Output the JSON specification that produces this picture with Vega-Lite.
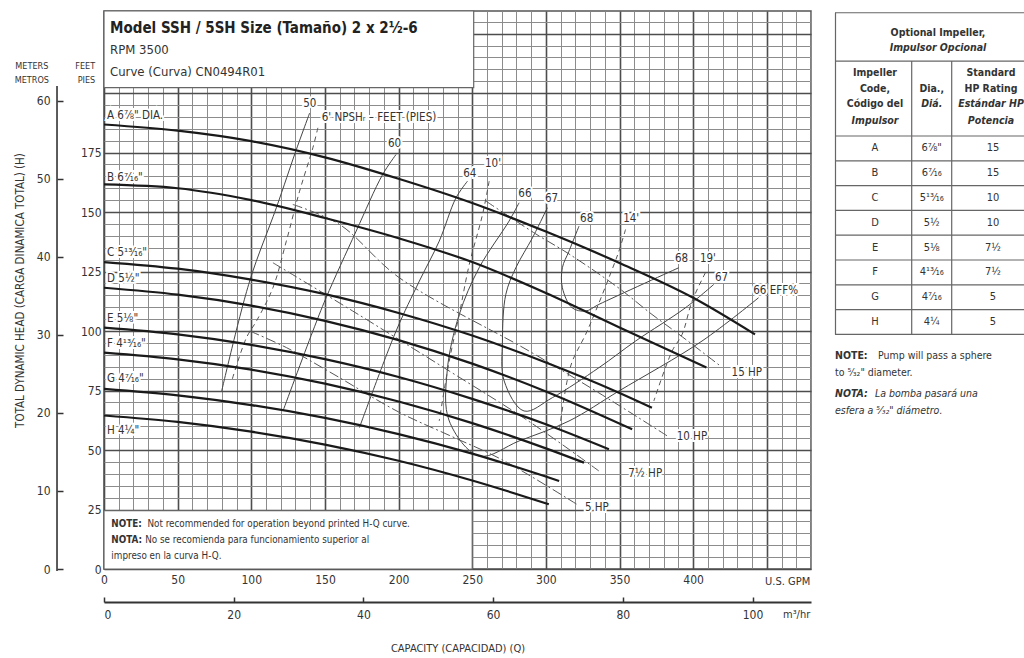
{
"$schema": "https://vega.github.io/schema/vega-lite/v6.json",
"padding": {"left": 13, "top": 7, "right": 0, "bottom": 0},
"background": "white",
"config": {"font": "Liberation Sans Narrow, DejaVu Sans Condensed, Roboto Condensed, sans-serif", "concat": {"spacing": 19}},
"datasets": {
"hq": [
{"c":"A","q":0,"h":186.8},{"c":"A","q":50,"h":184.2},{"c":"A","q":100,"h":179.8},{"c":"A","q":150,"h":173},{"c":"A","q":200,"h":164},{"c":"A","q":250,"h":153.8},{"c":"A","q":300,"h":141.8},{"c":"A","q":350,"h":128.6},{"c":"A","q":400,"h":114},{"c":"A","q":442,"h":98.6},
{"c":"B","q":0,"h":161.6},{"c":"B","q":50,"h":160},{"c":"B","q":100,"h":155},{"c":"B","q":150,"h":147.5},{"c":"B","q":200,"h":139},{"c":"B","q":250,"h":129},{"c":"B","q":300,"h":116},{"c":"B","q":350,"h":101.5},{"c":"B","q":409,"h":84.7},
{"c":"C","q":0,"h":129},{"c":"C","q":50,"h":126.2},{"c":"C","q":100,"h":121.6},{"c":"C","q":150,"h":115.5},{"c":"C","q":200,"h":107.6},{"c":"C","q":250,"h":98.1},{"c":"C","q":300,"h":86.8},{"c":"C","q":350,"h":74},{"c":"C","q":372,"h":67.8},
{"c":"D","q":0,"h":118.2},{"c":"D","q":50,"h":115.3},{"c":"D","q":100,"h":110.7},{"c":"D","q":150,"h":104.3},{"c":"D","q":200,"h":96.2},{"c":"D","q":250,"h":86.3},{"c":"D","q":300,"h":74.6},{"c":"D","q":358.6,"h":58.7},
{"c":"E","q":0,"h":101.4},{"c":"E","q":50,"h":98.6},{"c":"E","q":100,"h":94.2},{"c":"E","q":150,"h":88.2},{"c":"E","q":200,"h":80.7},{"c":"E","q":250,"h":71.5},{"c":"E","q":300,"h":60.8},{"c":"E","q":342.8,"h":50.3},
{"c":"F","q":0,"h":90.9},{"c":"F","q":50,"h":88.1},{"c":"F","q":100,"h":83.8},{"c":"F","q":150,"h":77.9},{"c":"F","q":200,"h":70.4},{"c":"F","q":250,"h":61.3},{"c":"F","q":300,"h":50.7},{"c":"F","q":325.9,"h":44.7},
{"c":"G","q":0,"h":75.7},{"c":"G","q":50,"h":73},{"c":"G","q":100,"h":68.9},{"c":"G","q":150,"h":63.5},{"c":"G","q":200,"h":56.7},{"c":"G","q":250,"h":48.5},{"c":"G","q":309,"h":37},
{"c":"H","q":0,"h":64.5},{"c":"H","q":50,"h":61.8},{"c":"H","q":100,"h":57.7},{"c":"H","q":150,"h":52.3},{"c":"H","q":200,"h":45.5},{"c":"H","q":250,"h":37.2},{"c":"H","q":302,"h":27.2}
],
"eff": [
{"c":"e50","o":1,"q":139.6,"h":191.6},{"c":"e50","o":2,"q":130.6,"h":176.3},{"c":"e50","o":3,"q":117,"h":151.8},{"c":"e50","o":4,"q":98.9,"h":121},{"c":"e50","o":5,"q":79.9,"h":74.8},
{"c":"e60","o":1,"q":198.3,"h":174.2},{"c":"e60","o":2,"q":189.2,"h":165.8},{"c":"e60","o":3,"q":171.2,"h":142},{"c":"e60","o":4,"q":150.8,"h":114},{"c":"e60","o":5,"q":141.8,"h":100},{"c":"e60","o":6,"q":121.5,"h":66.4},
{"c":"e64","o":1,"q":246.8,"h":163},{"c":"e64","o":2,"q":239,"h":156},{"c":"e64","o":3,"q":227.6,"h":137.8},{"c":"e64","o":4,"q":214.1,"h":121},{"c":"e64","o":5,"q":198.3,"h":100},{"c":"e64","o":6,"q":173.4,"h":59.4},
{"c":"e66","o":1,"q":281.8,"h":153.9},{"c":"e66","o":2,"q":275,"h":146.2},{"c":"e66","o":3,"q":254.7,"h":126.6},{"c":"e66","o":4,"q":241.2,"h":107},{"c":"e66","o":5,"q":233,"h":83.2},{"c":"e66","o":6,"q":234.4,"h":62.2},{"c":"e66","o":7,"q":254.7,"h":47.5},{"c":"e66","o":8,"q":281.8,"h":53.8},{"c":"e66","o":9,"q":315.7,"h":62.2},{"c":"e66","o":10,"q":349.6,"h":74.8},{"c":"e66","o":11,"q":406,"h":95.8},{"c":"e66","o":12,"q":444.4,"h":114},
{"c":"e67","o":1,"q":301,"h":151.8},{"c":"e67","o":2,"q":290.9,"h":139.2},{"c":"e67","o":3,"q":279.6,"h":126.6},{"c":"e67","o":4,"q":272.8,"h":115.4},{"c":"e67","o":5,"q":270.5,"h":95.8},{"c":"e67","o":6,"q":271.7,"h":79},{"c":"e67","o":7,"q":285.2,"h":66.4},{"c":"e67","o":8,"q":304.4,"h":72},{"c":"e67","o":9,"q":336,"h":84.6},{"c":"e67","o":10,"q":360.9,"h":95.8},{"c":"e67","o":11,"q":394.8,"h":109.8},{"c":"e67","o":12,"q":414,"h":119.6},
{"c":"e68","o":1,"q":322.5,"h":144.1},{"c":"e68","o":2,"q":315.7,"h":133.6},{"c":"e68","o":3,"q":311.2,"h":126.6},{"c":"e68","o":4,"q":311.2,"h":118.2},{"c":"e68","o":5,"q":317.8,"h":109.8},{"c":"e68","o":6,"q":327,"h":108.4},{"c":"e68","o":7,"q":336,"h":111.2},{"c":"e68","o":8,"q":390.2,"h":126.6}
],
"npsh": [
{"c":"n6","o":1,"q":145.2,"h":185.4},{"c":"n6","o":2,"q":141.8,"h":177},{"c":"n6","o":3,"q":132.8,"h":158.8},{"c":"n6","o":4,"q":123.8,"h":137.8},{"c":"n6","o":5,"q":114.7,"h":118.2},{"c":"n6","o":6,"q":103.5,"h":104.2},{"c":"n6","o":7,"q":96.7,"h":97.2},{"c":"n6","o":8,"q":86.7,"h":79},
{"c":"n10","o":1,"q":261.5,"h":163},{"c":"n10","o":2,"q":257,"h":149},{"c":"n10","o":3,"q":248,"h":128},{"c":"n10","o":4,"q":241.2,"h":107},{"c":"n10","o":5,"q":234.4,"h":87.4},{"c":"n10","o":6,"q":227.6,"h":62.2},
{"c":"n14","o":1,"q":354.1,"h":142.7},{"c":"n14","o":2,"q":349.6,"h":133.6},{"c":"n14","o":3,"q":342.8,"h":122.4},{"c":"n14","o":4,"q":333.8,"h":108.4},{"c":"n14","o":5,"q":327,"h":98.6},{"c":"n14","o":6,"q":318,"h":87.4},{"c":"n14","o":7,"q":314.4,"h":79},{"c":"n14","o":8,"q":309,"h":58},
{"c":"n19","o":1,"q":408.3,"h":124.5},{"c":"n19","o":2,"q":399.3,"h":112.6},{"c":"n19","o":3,"q":392.5,"h":98.6},{"c":"n19","o":4,"q":385.7,"h":91.6},{"c":"n19","o":5,"q":373.3,"h":70.6}
],
"hp": [
{"c":"p15","o":1,"q":259.3,"h":154.6},{"c":"p15","o":2,"q":293.2,"h":140.8},{"c":"p15","o":3,"q":315.7,"h":132.4},{"c":"p15","o":4,"q":349.6,"h":118},{"c":"p15","o":5,"q":372,"h":107},{"c":"p15","o":6,"q":390.2,"h":98.7},{"c":"p15","o":7,"q":418.5,"h":85.3},
{"c":"p10","o":1,"q":128.2,"h":153.2},{"c":"p10","o":2,"q":159.9,"h":144.8},{"c":"p10","o":3,"q":200.5,"h":122.4},{"c":"p10","o":4,"q":288.6,"h":91.6},{"c":"p10","o":5,"q":336,"h":74},{"c":"p10","o":6,"q":383.5,"h":55.5},
{"c":"p7","o":1,"q":114.7,"h":128.7},{"c":"p7","o":2,"q":168.9,"h":108.4},{"c":"p7","o":3,"q":234.4,"h":83.2},{"c":"p7","o":4,"q":288.6,"h":62},{"c":"p7","o":5,"q":336,"h":41.2},
{"c":"p5","o":1,"q":99,"h":100},{"c":"p5","o":2,"q":124,"h":93},{"c":"p5","o":3,"q":155.5,"h":82},{"c":"p5","o":4,"q":200,"h":66},{"c":"p5","o":5,"q":235,"h":56},{"c":"p5","o":6,"q":270,"h":46},{"c":"p5","o":7,"q":321,"h":27.2}
],
"curveLabels": [
{"t":"A 6⅞\" DIA.","q":2,"h":190.3},{"t":"B 6⁷⁄₁₆\"","q":2,"h":164.4},{"t":"C 5¹³⁄₁₆\"","q":2,"h":132.9},{"t":"D 5½\"","q":2,"h":121.7},
{"t":"E 5⅛\"","q":2,"h":104.9},{"t":"F 4¹³⁄₁₆\"","q":2,"h":94.4},{"t":"G 4⁷⁄₁₆\"","q":2,"h":79.7},{"t":"H 4¼\"","q":2,"h":58}
],
"lineLabels": [
{"t":"50","q":135.3,"h":195.3},{"t":"6' NPSHᵣ – FEET (PIES)","q":147.8,"h":189.6},{"t":"60","q":192.8,"h":178.4},{"t":"64","q":243.9,"h":165.8},
{"t":"10'","q":258.7,"h":170},{"t":"66","q":281.3,"h":157.4},{"t":"67","q":299.4,"h":155.3},{"t":"68","q":323.2,"h":146.9},{"t":"14'","q":352.5,"h":146.9},
{"t":"68","q":387.6,"h":130.1},{"t":"19'","q":404.6,"h":130.1},{"t":"67","q":414.8,"h":122.4},{"t":"66 EFF%","q":440.8,"h":116.8},
{"t":"15 HP","q":426.1,"h":82.5},{"t":"10 HP","q":388.8,"h":55.5},{"t":"7½ HP","q":355.9,"h":39.8},{"t":"5 HP","q":326.5,"h":25.8}
],
"boxes": [{"q":0,"q2":251,"h":202.3,"h2":234.5},{"q":0,"q2":250,"h":0,"h2":24.5}]
},
"hconcat": [
{
"width": 707, "height": 558,
"view": {"stroke": "#555", "strokeWidth": 1.5},
"layer": [
{
"encoding": {
"x": {"field": "q", "type": "quantitative", "scale": {"domain": [0, 480], "nice": false, "zero": false},
"axis": {"values": [0,10,20,30,40,50,60,70,80,90,100,110,120,130,140,150,160,170,180,190,200,210,220,230,240,250,260,270,280,290,300,310,320,330,340,350,360,370,380,390,400,410,420,430,440,450,460,470,480],
"grid": true, "gridColor": {"condition": {"test": "datum.value % 50 === 0", "value": "#4d4d4d"}, "value": "#8c8c8c"},
"gridWidth": {"condition": {"test": "datum.value % 50 === 0", "value": 1.6}, "value": 1},
"ticks": false, "domain": false, "labelExpr": "datum.value % 50 === 0 && datum.value <= 400 ? datum.label : ''",
"labelFontSize": 12, "labelColor": "#333", "labelPadding": 5, "labelFlush": false, "labelOverlap": false, "title": null}},
"y": {"field": "h", "type": "quantitative", "scale": {"domain": [0, 234.5], "nice": false, "zero": false},
"axis": {"values": [0,5,10,15,20,25,30,35,40,45,50,55,60,65,70,75,80,85,90,95,100,105,110,115,120,125,130,135,140,145,150,155,160,165,170,175,180,185,190,195,200,205,210,215,220,225,230],
"grid": true, "gridColor": {"condition": {"test": "datum.value % 25 === 0", "value": "#4d4d4d"}, "value": "#8c8c8c"},
"gridWidth": {"condition": {"test": "datum.value % 25 === 0", "value": 1.6}, "value": 1},
"ticks": false, "domain": false, "labelExpr": "datum.value % 25 === 0 && datum.value <= 175 ? datum.label : ''",
"labelFontSize": 12, "labelColor": "#333", "labelPadding": 3, "labelOverlap": false, "labelFlush": false, "title": null}}
},
"layer": [
{"data": {"name": "boxes"}, "mark": {"type": "rect", "fill": "white", "stroke": "#666", "strokeWidth": 1.2}, "encoding": {"x2": {"field": "q2"}, "y2": {"field": "h2"}}},
{"data": {"values": [{"q": -31.9, "h": -0.8, "h2": 203}]}, "mark": {"type": "rule", "stroke": "#333", "strokeWidth": 1.6}, "encoding": {"y2": {"field": "h2"}}},
{"data": {"name": "eff"}, "mark": {"type": "line", "interpolate": "catmull-rom", "stroke": "#444", "strokeWidth": 1}, "encoding": {"detail": {"field": "c"}, "order": {"field": "o"}}},
{"data": {"name": "npsh"}, "mark": {"type": "line", "interpolate": "catmull-rom", "stroke": "#555", "strokeWidth": 1, "strokeDash": [5, 4]}, "encoding": {"detail": {"field": "c"}, "order": {"field": "o"}}},
{"data": {"name": "hp"}, "mark": {"type": "line", "interpolate": "catmull-rom", "stroke": "#555", "strokeWidth": 1, "strokeDash": [10, 3, 2, 3]}, "encoding": {"detail": {"field": "c"}, "order": {"field": "o"}}},
{"data": {"name": "hq"}, "mark": {"type": "line", "interpolate": "monotone", "stroke": "#1a1a1a", "strokeWidth": 2.2}, "encoding": {"detail": {"field": "c"}}},
{"data": {"name": "curveLabels"}, "mark": {"type": "text", "align": "left", "baseline": "middle", "fontSize": 11.5, "stroke": "white", "strokeWidth": 4, "fill": "white"}, "encoding": {"text": {"field": "t"}}},
{"data": {"name": "curveLabels"}, "mark": {"type": "text", "align": "left", "baseline": "middle", "fontSize": 11.5, "fill": "#333"}, "encoding": {"text": {"field": "t"}}},
{"data": {"name": "lineLabels"}, "mark": {"type": "text", "align": "left", "baseline": "middle", "fontSize": 11.5, "stroke": "white", "strokeWidth": 4, "fill": "white"}, "encoding": {"text": {"field": "t"}}},
{"data": {"name": "lineLabels"}, "mark": {"type": "text", "align": "left", "baseline": "middle", "fontSize": 11.5, "fill": "#333"}, "encoding": {"text": {"field": "t"}}},
{"data": {"values": [{"t": "Model SSH / 5SH Size (Tamaño) 2 x 2½-6", "q": 4.1, "h": 227.4}]}, "mark": {"type": "text", "align": "left", "baseline": "middle", "fontSize": 15, "fontWeight": "bold", "fill": "#222"}, "encoding": {"text": {"field": "t"}}},
{"data": {"values": [{"t": "RPM 3500", "q": 4.1, "h": 218.2}, {"t": "Curve (Curva) CN0494R01", "q": 4.1, "h": 208.8}]}, "mark": {"type": "text", "align": "left", "baseline": "middle", "fontSize": 13, "fill": "#333"}, "encoding": {"text": {"field": "t"}}},
{"data": {"values": [{"t": "NOTE:", "q": 5, "h": 19}, {"t": "NOTA:", "q": 5, "h": 12.2}]}, "mark": {"type": "text", "align": "left", "baseline": "middle", "fontSize": 9.8, "fontWeight": "bold", "fill": "#333"}, "encoding": {"text": {"field": "t"}}},
{"data": {"values": [{"t": "Not recommended for operation beyond printed H-Q curve.", "q": 29.5, "h": 19}, {"t": "No se recomienda para funcionamiento superior al", "q": 28, "h": 12.2}, {"t": "impreso en la curva H-Q.", "q": 5, "h": 5.5}]}, "mark": {"type": "text", "align": "left", "baseline": "middle", "fontSize": 9.8, "fill": "#333"}, "encoding": {"text": {"field": "t"}}},
{"data": {"values": [{"t": "FEET", "q": -6, "h": 211.5}, {"t": "PIES", "q": -6, "h": 205.5}]}, "mark": {"type": "text", "align": "right", "baseline": "middle", "fontSize": 9, "fill": "#333"}, "encoding": {"text": {"field": "t"}}},
{"data": {"values": [{"t": "METERS", "q": -49, "h": 211.5}, {"t": "METROS", "q": -49, "h": 205.5}]}, "mark": {"type": "text", "align": "center", "baseline": "middle", "fontSize": 9, "fill": "#333"}, "encoding": {"text": {"field": "t"}}},
{"data": {"values": [{"t": "U.S. GPM", "q": 448.8, "h": -5.5}, {"t": "m³/hr", "q": 461, "h": -19.5}]}, "mark": {"type": "text", "align": "left", "baseline": "middle", "fontSize": 11, "fill": "#333"}, "encoding": {"text": {"field": "t"}}}
]
},
{
"data": {"values": [{"m": 0}, {"m": 71.48}]},
"mark": {"type": "point", "opacity": 0},
"encoding": {"y": {"field": "m", "type": "quantitative", "scale": {"domain": [0, 71.48], "nice": false, "zero": false},
"axis": {"orient": "left", "offset": 47, "values": [0, 10, 20, 30, 40, 50, 60], "tickSize": -6, "tickWidth": 1.5, "tickColor": "#333", "domain": false,
"labelPadding": 13, "labelFontSize": 12, "labelColor": "#333", "grid": false,
"title": "TOTAL DYNAMIC HEAD (CARGA DINAMICA TOTAL) (H)", "titleFontSize": 11.5, "titleFontWeight": "normal", "titleColor": "#333", "titlePadding": 11}}}
},
{
"data": {"values": [{"c": 0}, {"c": 109.02}]},
"mark": {"type": "point", "opacity": 0},
"encoding": {"x": {"field": "c", "type": "quantitative", "scale": {"domain": [0, 109.02], "nice": false, "zero": false},
"axis": {"orient": "bottom", "offset": 33, "values": [0, 20, 40, 60, 80, 100], "tickSize": -5, "tickWidth": 1.5, "tickColor": "#333", "domainColor": "#333", "domainWidth": 2,
"labelPadding": 12, "labelFontSize": 12, "labelColor": "#333", "grid": false,
"title": "CAPACITY (CAPACIDAD) (Q)", "titleFontSize": 11, "titleFontWeight": "normal", "titleColor": "#333", "titlePadding": 22}}}
}
],
"resolve": {"scale": {"x": "independent", "y": "independent"}}
},
{
"width": 189, "height": 558,
"view": {"stroke": null},
"encoding": {
"x": {"field": "tx", "type": "quantitative", "scale": {"domain": [0, 18.9], "nice": false, "zero": false}, "axis": null},
"y": {"field": "ty", "type": "quantitative", "scale": {"domain": [0, 22.5], "nice": false, "zero": false, "reverse": true}, "axis": null}
},
"layer": [
{"data": {"values": [{"tx": 0, "tx2": 20, "ty": 0.07}, {"tx": 0, "tx2": 20, "ty": 2.02}, {"tx": 0, "tx2": 20, "ty": 5.04}, {"tx": 0, "tx2": 20, "ty": 6.04}, {"tx": 0, "tx2": 20, "ty": 7.04}, {"tx": 0, "tx2": 20, "ty": 8.04}, {"tx": 0, "tx2": 20, "ty": 9.04}, {"tx": 0, "tx2": 20, "ty": 10.04}, {"tx": 0, "tx2": 20, "ty": 11.04}, {"tx": 0, "tx2": 20, "ty": 12.04}, {"tx": 0, "tx2": 20, "ty": 13.04}]},
"mark": {"type": "rule", "stroke": "#666", "strokeWidth": 1.2, "clip": true}, "encoding": {"x2": {"field": "tx2"}}},
{"data": {"values": [{"tx": 0.05, "ty": 0.07, "ty2": 13.04}, {"tx": 7.67, "ty": 2.02, "ty2": 13.04}, {"tx": 11.67, "ty": 2.02, "ty2": 13.04}]},
"mark": {"type": "rule", "stroke": "#666", "strokeWidth": 1.2}, "encoding": {"y2": {"field": "ty2"}}},
{"data": {"values": [{"t": "Optional Impeller,", "tx": 10.3, "ty": 0.89}, {"t": "Impeller", "tx": 4.0, "ty": 2.49}, {"t": "Code,", "tx": 4.0, "ty": 3.16}, {"t": "Código del", "tx": 4.0, "ty": 3.76}, {"t": "Dia.,", "tx": 9.67, "ty": 3.16}, {"t": "Standard", "tx": 15.6, "ty": 2.49}, {"t": "HP Rating", "tx": 15.6, "ty": 3.16}]},
"mark": {"type": "text", "align": "center", "baseline": "middle", "fontSize": 10.5, "fontWeight": "bold", "fill": "#333", "clip": true}, "encoding": {"text": {"field": "t"}}},
{"data": {"values": [{"t": "Impulsor Opcional", "tx": 10.3, "ty": 1.49}, {"t": "Impulsor", "tx": 4.0, "ty": 4.44}, {"t": "Diá.", "tx": 9.67, "ty": 3.76}, {"t": "Estándar HP", "tx": 15.6, "ty": 3.76}, {"t": "Potencia", "tx": 15.6, "ty": 4.44}]},
"mark": {"type": "text", "align": "center", "baseline": "middle", "fontSize": 10.5, "fontWeight": "bold", "fontStyle": "italic", "fill": "#333", "clip": true}, "encoding": {"text": {"field": "t"}}},
{"data": {"values": [
{"t": "A", "tx": 4.0, "ty": 5.54}, {"t": "6⅞\"", "tx": 9.67, "ty": 5.54}, {"t": "15", "tx": 15.8, "ty": 5.54},
{"t": "B", "tx": 4.0, "ty": 6.54}, {"t": "6⁷⁄₁₆", "tx": 9.67, "ty": 6.54}, {"t": "15", "tx": 15.8, "ty": 6.54},
{"t": "C", "tx": 4.0, "ty": 7.54}, {"t": "5¹³⁄₁₆", "tx": 9.67, "ty": 7.54}, {"t": "10", "tx": 15.8, "ty": 7.54},
{"t": "D", "tx": 4.0, "ty": 8.54}, {"t": "5½", "tx": 9.67, "ty": 8.54}, {"t": "10", "tx": 15.8, "ty": 8.54},
{"t": "E", "tx": 4.0, "ty": 9.54}, {"t": "5⅛", "tx": 9.67, "ty": 9.54}, {"t": "7½", "tx": 15.8, "ty": 9.54},
{"t": "F", "tx": 4.0, "ty": 10.54}, {"t": "4¹³⁄₁₆", "tx": 9.67, "ty": 10.54}, {"t": "7½", "tx": 15.8, "ty": 10.54},
{"t": "G", "tx": 4.0, "ty": 11.54}, {"t": "4⁷⁄₁₆", "tx": 9.67, "ty": 11.54}, {"t": "5", "tx": 15.8, "ty": 11.54},
{"t": "H", "tx": 4.0, "ty": 12.54}, {"t": "4¼", "tx": 9.67, "ty": 12.54}, {"t": "5", "tx": 15.8, "ty": 12.54}]},
"mark": {"type": "text", "align": "center", "baseline": "middle", "fontSize": 11, "fill": "#333"}, "encoding": {"text": {"field": "t"}}},
{"data": {"values": [{"t": "NOTE:", "tx": 0, "ty": 13.91}]}, "mark": {"type": "text", "align": "left", "baseline": "middle", "fontSize": 10.5, "fontWeight": "bold", "fill": "#333"}, "encoding": {"text": {"field": "t"}}},
{"data": {"values": [{"t": "Pump will pass a sphere", "tx": 4.3, "ty": 13.91}, {"t": "to ⁵⁄₃₂\" diameter.", "tx": 0, "ty": 14.58}]}, "mark": {"type": "text", "align": "left", "baseline": "middle", "fontSize": 10.5, "fill": "#333"}, "encoding": {"text": {"field": "t"}}},
{"data": {"values": [{"t": "NOTA:", "tx": 0, "ty": 15.44}]}, "mark": {"type": "text", "align": "left", "baseline": "middle", "fontSize": 10.5, "fontWeight": "bold", "fontStyle": "italic", "fill": "#333"}, "encoding": {"text": {"field": "t"}}},
{"data": {"values": [{"t": "La bomba pasará una", "tx": 4.0, "ty": 15.44}, {"t": "esfera a ⁵⁄₃₂\" diámetro.", "tx": 0, "ty": 16.13}]}, "mark": {"type": "text", "align": "left", "baseline": "middle", "fontSize": 10.5, "fontStyle": "italic", "fill": "#333"}, "encoding": {"text": {"field": "t"}}}
]
}
]
}
